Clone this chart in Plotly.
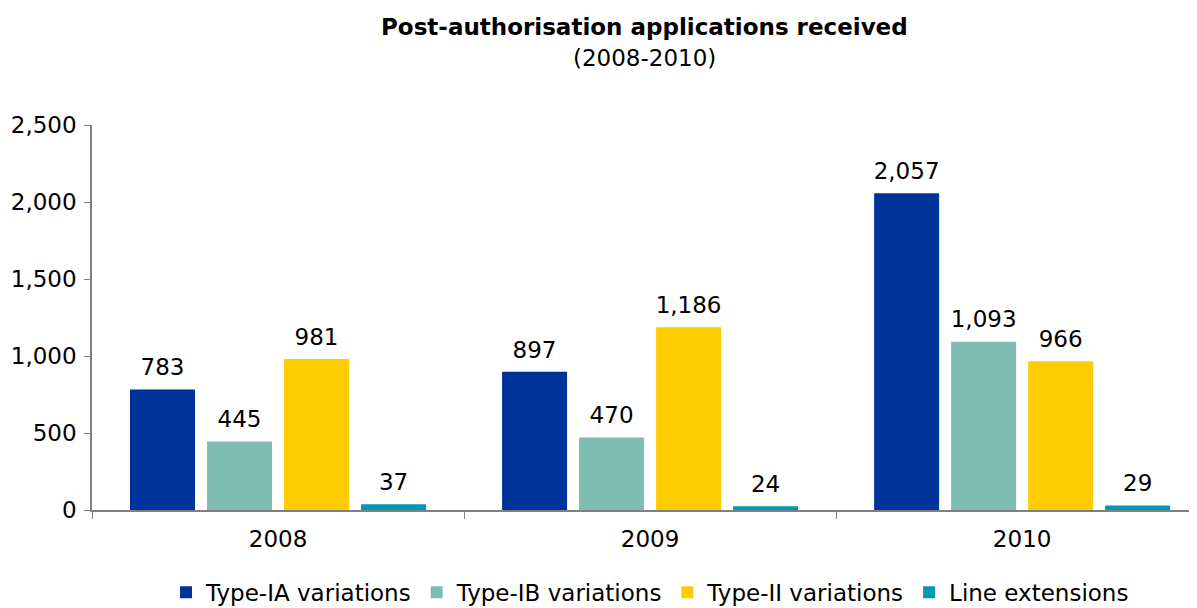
import plotly.graph_objects as go

years = ["2008", "2009", "2010"]
series_names = ["Type-IA variations", "Type-IB variations", "Type-II variations", "Line extensions"]
type_ia = [783, 897, 2057]
type_ib = [445, 470, 1093]
type_ii = [981, 1186, 966]
line_ext = [37, 24, 29]
colors = ["#003399", "#7FBCB2", "#FFCC00", "#0099B5"]
y_ticks = [0, 500, 1000, 1500, 2000, 2500]
title_text = "Post-authorisation applications received"
subtitle_text = "(2008-2010)"

FONT = "Verdana, DejaVu Sans, sans-serif"
FS = 23
BARGAP = 0.172

fig = go.Figure()
all_series = [type_ia, type_ib, type_ii, line_ext]
for i, (name, vals, col) in enumerate(zip(series_names, all_series, colors)):
    fig.add_trace(go.Bar(
        x=years, y=vals, name=name, marker=dict(color=col, line=dict(width=0)),
        offsetgroup=str(i),
    ))
# value labels, grouped like the bars so they sit over each bar
for i, (name, vals) in enumerate(zip(series_names, all_series)):
    fig.add_trace(go.Scatter(
        x=years, y=vals, mode="markers+text", offsetgroup=str(i),
        marker=dict(size=12, opacity=0),
        text=[f"{v:,}" for v in vals], textposition="top center",
        textfont=dict(size=FS, color="#000000", family=FONT),
        showlegend=False, hoverinfo="skip", cliponaxis=False,
    ))

# the page body has an 8px default margin, so the figure is sized to fit the window
fig.update_layout(
    width=1189, height=600,
    margin=dict(l=84, r=0, t=117, b=98, autoexpand=False),
    paper_bgcolor="white", plot_bgcolor="white",
    barmode="group", bargap=BARGAP, bargroupgap=0.156,
    scattermode="group", scattergap=BARGAP,
    font=dict(family=FONT, size=FS, color="#000000"),
    showlegend=True,
    legend=dict(orientation="h", x=0.505, xanchor="center", y=-0.158, yanchor="top",
                font=dict(size=23, family=FONT), itemwidth=30, traceorder="normal",
                tracegroupgap=0),
    annotations=[
        dict(text=f"<b>{title_text}</b>", x=0.5, y=1.2545, xref="paper", yref="paper",
             xanchor="center", yanchor="middle", showarrow=False,
             font=dict(size=FS, family=FONT, color="#000000")),
        dict(text=subtitle_text, x=0.5, y=1.174, xref="paper", yref="paper",
             xanchor="center", yanchor="middle", showarrow=False,
             font=dict(size=FS, family=FONT, color="#000000")),
    ],
)
fig.update_xaxes(
    range=[-0.5, 2.47], showline=True, linecolor="#808080", linewidth=1.5,
    ticks="outside", tickson="boundaries", ticklen=7, tickcolor="#808080",
    showgrid=False, tickfont=dict(size=FS, family=FONT), fixedrange=True,
    automargin=False, ticklabelstandoff=8,
)
fig.update_yaxes(
    range=[0, 2500], tickvals=y_ticks, tickformat=",", showline=True,
    linecolor="#808080", linewidth=1.5, ticks="outside", ticklen=6, tickcolor="#808080",
    showgrid=False, zeroline=False, tickfont=dict(size=FS, family=FONT),
    automargin=False, ticklabelstandoff=3,
)

fig.write_html("out.html")
